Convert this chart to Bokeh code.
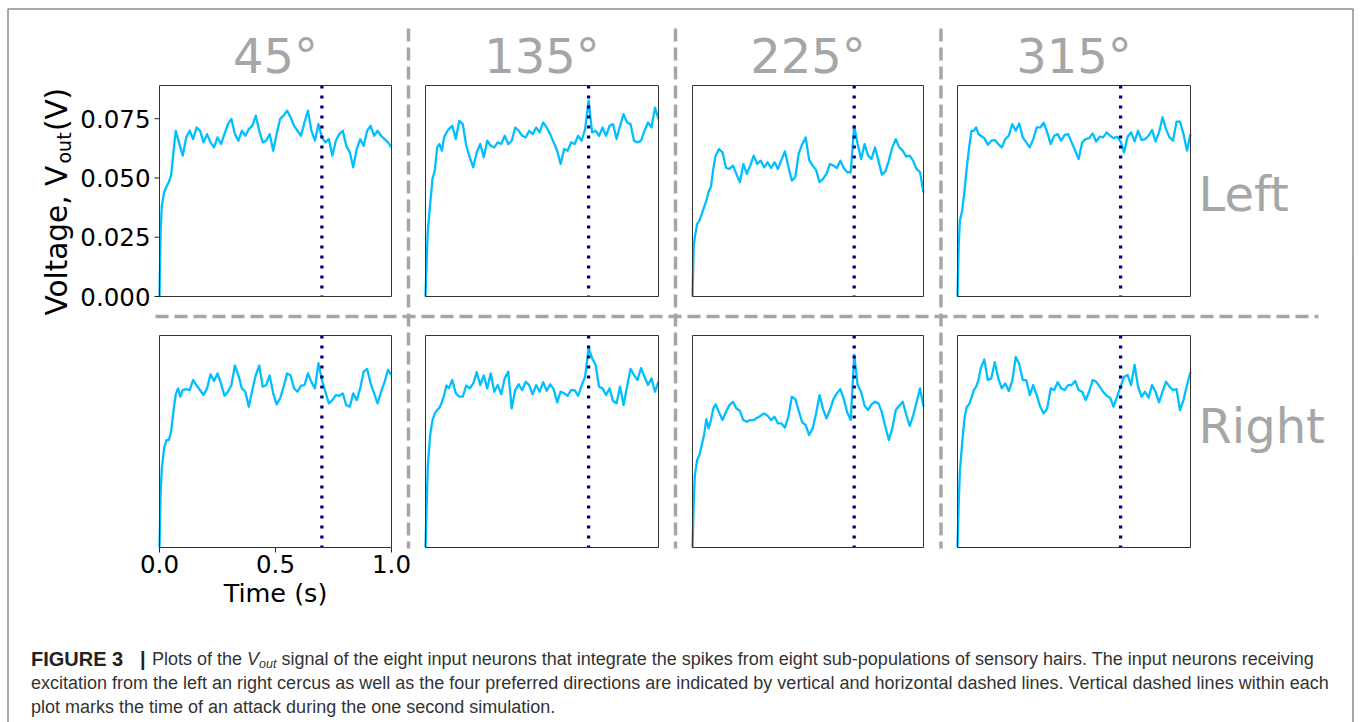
import math
from bokeh.plotting import figure
from bokeh.models import Range1d
from bokeh.core.properties import value
from bokeh.embed import file_html
from bokeh.resources import INLINE

# ---------------- data ----------------
time_s = [
    0.0, 0.005, 0.01, 0.02, 0.03, 0.04, 0.05, 0.06, 0.07, 0.08, 0.09, 0.1,
    0.115, 0.13, 0.145, 0.16, 0.175, 0.19, 0.205, 0.22, 0.235, 0.25,
    0.265, 0.28, 0.295, 0.31, 0.325, 0.34, 0.355, 0.37, 0.385, 0.4,
    0.415, 0.43, 0.445, 0.46, 0.475, 0.49, 0.505, 0.52, 0.535, 0.55,
    0.565, 0.58, 0.595, 0.61, 0.625, 0.64, 0.655, 0.67, 0.685, 0.7,
    0.715, 0.73, 0.745, 0.76, 0.775, 0.79, 0.805, 0.82, 0.835, 0.85,
    0.865, 0.88, 0.895, 0.91, 0.925, 0.94, 0.955, 0.97, 0.985, 1.0]

v_left_45 = [
    0.0, 0.0278, 0.0383, 0.0440, 0.0463, 0.0482, 0.0510, 0.0608, 0.0699, 0.0664, 0.0629, 0.0594,
    0.0671, 0.0699, 0.0664, 0.0713, 0.0699, 0.0650, 0.0685, 0.0650, 0.0629, 0.0671,
    0.0643, 0.0685, 0.0727, 0.0749, 0.0685, 0.0657, 0.0699, 0.0678, 0.0706, 0.0720,
    0.0763, 0.0699, 0.0650, 0.0657, 0.0685, 0.0615, 0.0685, 0.0749, 0.0763, 0.0784,
    0.0756, 0.0720, 0.0699, 0.0678, 0.0735, 0.0784, 0.0699, 0.0657, 0.0727, 0.0671,
    0.0650, 0.0664, 0.0594, 0.0657, 0.0685, 0.0699, 0.0636, 0.0608, 0.0545, 0.0622,
    0.0664, 0.0636, 0.0699, 0.0720, 0.0678, 0.0699, 0.0678, 0.0664, 0.0650, 0.0629]

v_left_135 = [
    0.0, 0.0152, 0.0278, 0.0390, 0.0496, 0.0531, 0.0629, 0.0643, 0.0615, 0.0671, 0.0692, 0.0706,
    0.0720, 0.0664, 0.0741, 0.0727, 0.0636, 0.0587, 0.0545, 0.0608, 0.0643, 0.0587,
    0.0657, 0.0636, 0.0629, 0.0650, 0.0643, 0.0678, 0.0643, 0.0657, 0.0713, 0.0699,
    0.0678, 0.0671, 0.0699, 0.0685, 0.0713, 0.0692, 0.0734, 0.0713, 0.0685, 0.0650,
    0.0615, 0.0559, 0.0622, 0.0615, 0.0650, 0.0643, 0.0678, 0.0657, 0.0706, 0.0826,
    0.0692, 0.0699, 0.0678, 0.0713, 0.0678, 0.0720, 0.0727, 0.0664, 0.0720, 0.0769,
    0.0734, 0.0727, 0.0657, 0.0650, 0.0657, 0.0699, 0.0734, 0.0713, 0.0797, 0.0748]

v_left_225 = [
    0.0, 0.0208, 0.0250, 0.0306, 0.0320, 0.0348, 0.0376, 0.0404, 0.0444, 0.0463, 0.0538, 0.0594,
    0.0622, 0.0608, 0.0542, 0.0538, 0.0552, 0.0517, 0.0482, 0.0559, 0.0517, 0.0552,
    0.0594, 0.0559, 0.0573, 0.0545, 0.0566, 0.0542, 0.0566, 0.0538, 0.0576, 0.0612,
    0.0548, 0.0489, 0.0503, 0.0604, 0.0643, 0.0671, 0.0576, 0.0552, 0.0534, 0.0482,
    0.0496, 0.0517, 0.0559, 0.0552, 0.0542, 0.0573, 0.0542, 0.0524, 0.0524, 0.0720,
    0.0643, 0.0580, 0.0643, 0.0594, 0.0580, 0.0629, 0.0573, 0.0514, 0.0528, 0.0573,
    0.0629, 0.0664, 0.0629, 0.0615, 0.0590, 0.0594, 0.0573, 0.0538, 0.0524, 0.0439]

v_left_315 = [
    0.0, 0.0208, 0.0320, 0.0362, 0.0446, 0.0545, 0.0629, 0.0699, 0.0699, 0.0713, 0.0685, 0.0678,
    0.0668, 0.0640, 0.0657, 0.0660, 0.0643, 0.0629, 0.0664, 0.0678, 0.0727, 0.0699,
    0.0730, 0.0671, 0.0650, 0.0629, 0.0664, 0.0713, 0.0713, 0.0733, 0.0692, 0.0643,
    0.0678, 0.0685, 0.0657, 0.0682, 0.0685, 0.0650, 0.0615, 0.0580, 0.0650, 0.0664,
    0.0668, 0.0688, 0.0654, 0.0674, 0.0671, 0.0692, 0.0678, 0.0668, 0.0674, 0.0654,
    0.0608, 0.0674, 0.0692, 0.0654, 0.0699, 0.0660, 0.0664, 0.0678, 0.0702, 0.0654,
    0.0692, 0.0756, 0.0706, 0.0671, 0.0657, 0.0738, 0.0738, 0.0685, 0.0615, 0.0685]

v_right_45 = [
    0.0, 0.0233, 0.0331, 0.0418, 0.0451, 0.0451, 0.0486, 0.0570, 0.0643, 0.0668, 0.0633, 0.0661,
    0.0665, 0.0661, 0.0703, 0.0680, 0.0660, 0.0640, 0.0668, 0.0727, 0.0699, 0.0731,
    0.0689, 0.0637, 0.0654, 0.0682, 0.0764, 0.0724, 0.0668, 0.0654, 0.0591, 0.0661,
    0.0724, 0.0764, 0.0675, 0.0682, 0.0722, 0.0647, 0.0601, 0.0626, 0.0675, 0.0731,
    0.0722, 0.0668, 0.0654, 0.0680, 0.0682, 0.0731, 0.0694, 0.0668, 0.0774, 0.0703,
    0.0654, 0.0605, 0.0619, 0.0640, 0.0637, 0.0647, 0.0598, 0.0591, 0.0647, 0.0619,
    0.0668, 0.0738, 0.0750, 0.0689, 0.0647, 0.0605, 0.0654, 0.0694, 0.0746, 0.0724]

v_right_135 = [
    0.0, 0.0177, 0.0345, 0.0472, 0.0535, 0.0563, 0.0577, 0.0587, 0.0609, 0.0640, 0.0680, 0.0668,
    0.0703, 0.0647, 0.0633, 0.0633, 0.0680, 0.0668, 0.0689, 0.0736, 0.0682, 0.0722,
    0.0668, 0.0731, 0.0654, 0.0682, 0.0643, 0.0710, 0.0738, 0.0584, 0.0661, 0.0685,
    0.0661, 0.0696, 0.0682, 0.0643, 0.0682, 0.0654, 0.0694, 0.0658, 0.0685, 0.0665,
    0.0609, 0.0654, 0.0647, 0.0637, 0.0661, 0.0661, 0.0637, 0.0680, 0.0717, 0.0837,
    0.0795, 0.0767, 0.0675, 0.0668, 0.0640, 0.0668, 0.0615, 0.0605, 0.0675, 0.0598,
    0.0675, 0.0750, 0.0724, 0.0703, 0.0753, 0.0717, 0.0682, 0.0710, 0.0654, 0.0696]

v_right_225 = [
    0.0, 0.0177, 0.0303, 0.0366, 0.0388, 0.0430, 0.0472, 0.0539, 0.0500, 0.0535, 0.0584, 0.0601,
    0.0567, 0.0535, 0.0570, 0.0598, 0.0612, 0.0584, 0.0573, 0.0535, 0.0528, 0.0535,
    0.0535, 0.0545, 0.0553, 0.0563, 0.0553, 0.0535, 0.0549, 0.0521, 0.0521, 0.0503,
    0.0549, 0.0633, 0.0623, 0.0573, 0.0525, 0.0514, 0.0472, 0.0500, 0.0563, 0.0640,
    0.0581, 0.0542, 0.0577, 0.0623, 0.0647, 0.0665, 0.0623, 0.0567, 0.0535, 0.0809,
    0.0682, 0.0654, 0.0595, 0.0577, 0.0601, 0.0612, 0.0605, 0.0567, 0.0507, 0.0451,
    0.0500, 0.0577, 0.0595, 0.0612, 0.0559, 0.0511, 0.0553, 0.0609, 0.0668, 0.0591]

v_right_315 = [
    0.0, 0.0177, 0.0317, 0.0437, 0.0542, 0.0591, 0.0601, 0.0629, 0.0661, 0.0675, 0.0703, 0.0753,
    0.0790, 0.0703, 0.0710, 0.0778, 0.0710, 0.0668, 0.0689, 0.0657, 0.0699, 0.0800,
    0.0770, 0.0703, 0.0703, 0.0640, 0.0682, 0.0640, 0.0591, 0.0563, 0.0584, 0.0668,
    0.0661, 0.0694, 0.0668, 0.0661, 0.0682, 0.0682, 0.0699, 0.0661, 0.0654, 0.0619,
    0.0654, 0.0703, 0.0696, 0.0675, 0.0654, 0.0637, 0.0629, 0.0591, 0.0633, 0.0675,
    0.0717, 0.0724, 0.0682, 0.0767, 0.0675, 0.0633, 0.0654, 0.0629, 0.0682, 0.0654,
    0.0609, 0.0654, 0.0696, 0.0675, 0.0661, 0.0665, 0.0577, 0.0619, 0.0682, 0.0738]

directions = ["45°", "135°", "225°", "315°"]
sides = ["Left", "Right"]
attack_time_s = 0.7
y_ticks = [0.0, 0.025, 0.05, 0.075]
y_tick_labels = ["0.000", "0.025", "0.050", "0.075"]
x_ticks = [0.0, 0.5, 1.0]
x_tick_labels = ["0.0", "0.5", "1.0"]
y_label_parts = ["Voltage, V", "out", " (V)"]
x_label = "Time (s)"
caption_bold = ["FIGURE 3", "|"]
caption_l1 = ["Plots of the", "V", "out",
              "signal of the eight input neurons that integrate the spikes from eight sub-populations of sensory hairs. The input neurons receiving"]
caption_l2 = "excitation from the left an right cercus as well as the four preferred directions are indicated by vertical and horizontal dashed lines. Vertical dashed lines within each"
caption_l3 = "plot marks the time of an attack during the one second simulation."

traces = [[v_left_45, v_left_135, v_left_225, v_left_315],
          [v_right_45, v_right_135, v_right_225, v_right_315]]

# ---------------- layout (page pixels) ----------------
W, H = 1360, 722
Y_MAX = 0.089
col_px = [(159, 391), (425, 658), (692, 923), (957, 1190)]
row_px = [(296, 85), (547, 335)]

DEJAVU = value("DejaVu Sans")
LIB = value("Liberation Sans")
GREY = "#a6a6a6"
CAP_COL = "#333333"
CAP_FS = "18px"
CAP_Y = [658.5, 682.5, 706.5]

p = figure(width=W, height=H, x_range=Range1d(0, W), y_range=Range1d(H, 0),
           x_axis_location=None, y_axis_location=None,
           output_backend="svg", toolbar_location=None, min_border=0)
p.grid.visible = False
p.outline_line_color = None
p.background_fill_color = "white"
p.border_fill_color = "white"

# outer frame of the figure
p.multi_line(xs=[[7.5, 7.5, 1352.5, 1352.5]], ys=[[740, 8.5, 8.5, 740]],
             line_color="#8c8c8c", line_width=1.5)

# separators
p.multi_line(xs=[[408, 408], [675, 675], [940.5, 940.5], [155, 1318]],
             ys=[[28, 548], [28, 548], [28, 548], [316, 316]],
             line_color=GREY, line_width=3.5, line_dash="13 6")

# panels
for r in range(2):
    for c in range(4):
        x0, x1 = col_px[c]
        yb, yt = row_px[r]
        sp = p.subplot(x_source=Range1d(0, 1), y_source=Range1d(0, Y_MAX),
                       x_target=Range1d(x0, x1), y_target=Range1d(yb, yt))
        sp.quad(left=[0], right=[1], bottom=[0], top=[Y_MAX],
                fill_color="white", line_color=None)
        sp.line(time_s, traces[r][c], line_color="#00bfff", line_width=2.3,
                line_join="round")
        sp.segment(x0=[attack_time_s], y0=[Y_MAX], x1=[attack_time_s], y1=[0],
                   line_color="#000080", line_width=3.3, line_dash="3 7")
        sp.quad(left=[0], right=[1], bottom=[0], top=[Y_MAX],
                fill_color=None, line_color="#333333", line_width=1)
        if r == 0 and c == 0:
            dx = 5.0 / (x1 - x0)
            sp.segment(x0=[-dx] * len(y_ticks), x1=[0] * len(y_ticks),
                       y0=y_ticks, y1=y_ticks, line_color="#222222", line_width=1)
            sp.text(x=[0] * len(y_ticks), y=y_ticks, text=y_tick_labels,
                    x_offset=-9, y_offset=0, text_align="right",
                    text_baseline="alphabetic", text_font=DEJAVU,
                    text_font_size="24.5px", text_color="black")
        if r == 1 and c == 0:
            dy = 5.0 / (yb - yt) * Y_MAX
            sp.segment(x0=x_ticks, x1=x_ticks, y0=[0] * len(x_ticks),
                       y1=[-dy] * len(x_ticks), line_color="#222222", line_width=1)
            sp.text(x=x_ticks, y=[0] * len(x_ticks), text=x_tick_labels,
                    y_offset=16, text_align="center", text_baseline="alphabetic",
                    text_font=DEJAVU, text_font_size="24.5px", text_color="black")

# column titles and row labels
p.text(x=[(a + b) / 2 for a, b in col_px], y=[55] * 4, text=directions,
       text_align="center", text_baseline="alphabetic", text_font=DEJAVU,
       text_font_size="48px", text_color=GREY)
p.text(x=[1198, 1198], y=[193, 425], text=sides, text_align="left",
       text_baseline="alphabetic", text_font=DEJAVU, text_font_size="48px",
       text_color=GREY)

# axis labels
p.text(x=[56], y=[315], text=[y_label_parts[0]], angle=math.pi / 2,
       text_align="left", text_baseline="alphabetic", text_font=DEJAVU,
       text_font_size="29.5px", text_color="black")
p.text(x=[63], y=[163], text=[y_label_parts[1]], angle=math.pi / 2,
       text_align="left", text_baseline="alphabetic", text_font=DEJAVU,
       text_font_size="19px", text_color="black")
p.text(x=[56], y=[78], text=[y_label_parts[2]], angle=math.pi / 2,
       text_align="right", text_baseline="alphabetic", text_font=DEJAVU,
       text_font_size="29.5px", text_color="black")
p.text(x=[275], y=[592], text=[x_label], text_align="center",
       text_baseline="alphabetic", text_font=DEJAVU, text_font_size="25.5px",
       text_color="black")

# caption
p.text(x=[30.5], y=[CAP_Y[0]], text=[caption_bold[0]], text_align="left",
       text_baseline="alphabetic", text_font=LIB, text_font_style="bold",
       text_font_size="20px", text_color="#222222")
p.text(x=[139.5], y=[CAP_Y[0]], text=[caption_bold[1]], text_align="left",
       text_baseline="alphabetic", text_font=LIB, text_font_style="bold",
       text_font_size="20px", text_color="#222222")
p.text(x=[151.5, 281], y=[CAP_Y[0]] * 2, text=[caption_l1[0], caption_l1[3]],
       text_align="left", text_baseline="alphabetic", text_font=LIB,
       text_font_size=CAP_FS, text_color=CAP_COL)
p.text(x=[246.5], y=[CAP_Y[0]], text=[caption_l1[1]], text_align="left",
       text_baseline="alphabetic", text_font=LIB, text_font_style="italic",
       text_font_size=CAP_FS, text_color=CAP_COL)
p.text(x=[258.5], y=[CAP_Y[0] + 5], text=[caption_l1[2]], text_align="left",
       text_baseline="alphabetic", text_font=LIB, text_font_style="italic",
       text_font_size="12.5px", text_color=CAP_COL)
p.text(x=[30.5, 30.5], y=CAP_Y[1:], text=[caption_l2, caption_l3],
       text_align="left", text_baseline="alphabetic", text_font=LIB,
       text_font_size=CAP_FS, text_color=CAP_COL)

open("out.html", "w").write(file_html(p, INLINE))
